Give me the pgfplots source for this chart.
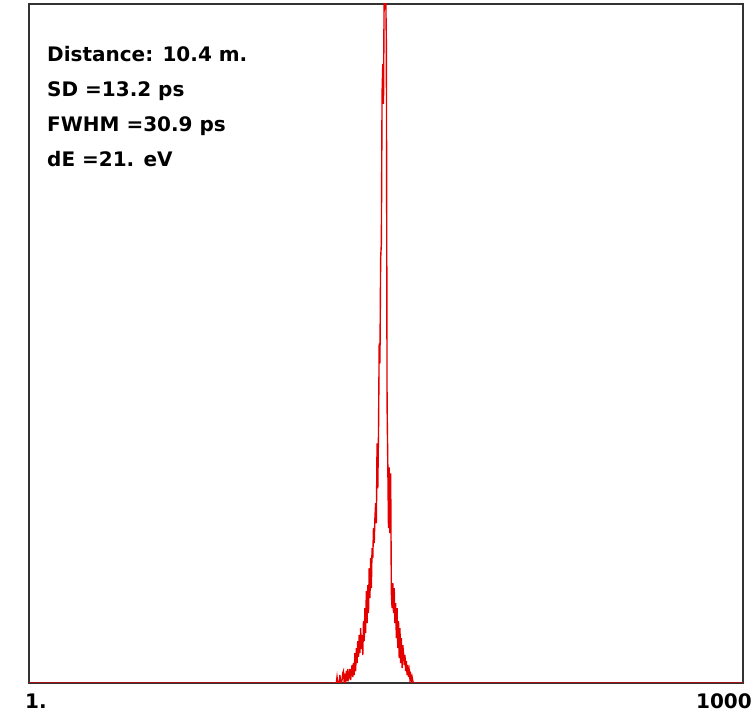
\documentclass[border=0pt]{standalone}
\usepackage{pgfplots}
\pgfplotsset{compat=1.18}
\usepackage{fontspec}
\setmainfont{DejaVu Sans}
\begin{document}
\begin{tikzpicture}
\useasboundingbox (0,0) rectangle (753bp,713bp);
\begin{axis}[
  at={(29bp,30bp)}, anchor=south west,
  scale only axis, width=714bp, height=679bp,
  xmin=1, xmax=1000, ymin=0, ymax=680,
  ticks=none,
  axis line style={draw=black!80, line width=1.5pt},
  clip=true,
]
% time-of-flight histogram (counts per channel)
\addplot[red!90!black, line width=1.4pt, line join=miter] table {
x y
1 0
429 0
430 0
431 0
432 6
433 0
434 0
435 0
436 8
437 0
438 0
439 3
440 10
441 12
442 0
443 5
444 0
445 12
446 2
447 14
448 4
449 6
450 14
451 3
452 10
453 18
454 6
455 20
456 8
457 30
458 12
459 35
460 20
461 42
462 26
463 48
464 30
465 55
466 34
467 48
468 28
469 62
470 42
471 75
472 50
473 92
474 60
475 98
476 70
477 115
478 85
479 125
480 95
481 135
482 125
483 155
484 140
485 165
486 180
487 160
488 240
489 195
490 250
491 340
492 320
493 425
494 440
495 590
496 620
497 580
498 700
499 700
500 700
501 640
502 280
503 220
504 155
505 216
506 150
507 210
508 90
509 75
510 100
511 70
512 95
513 60
514 80
515 45
516 75
517 35
518 62
519 25
520 55
521 20
522 45
523 15
524 38
525 30
526 18
527 28
528 12
529 22
530 8
531 18
532 6
533 12
534 4
535 8
536 2
537 6
538 2
539 0
1000 0
};
\end{axis}
\begin{scope}[every node/.style={font=\fontsize{20bp}{24bp}\selectfont\bfseries, inner sep=0pt}]
\node[anchor=base west] at (47bp,651bp) {Distance: 10.4 m.};
\node[anchor=base west] at (47bp,616bp) {SD =13.2 ps};
\node[anchor=base west] at (47bp,581bp) {FWHM =30.9 ps};
\node[anchor=base west] at (47bp,546bp) {dE =21. eV};
\node[anchor=base west] at (25bp,5bp) {1.};
\node[anchor=base east] at (752bp,5bp) {1000};
\end{scope}
\end{tikzpicture}
\end{document}
